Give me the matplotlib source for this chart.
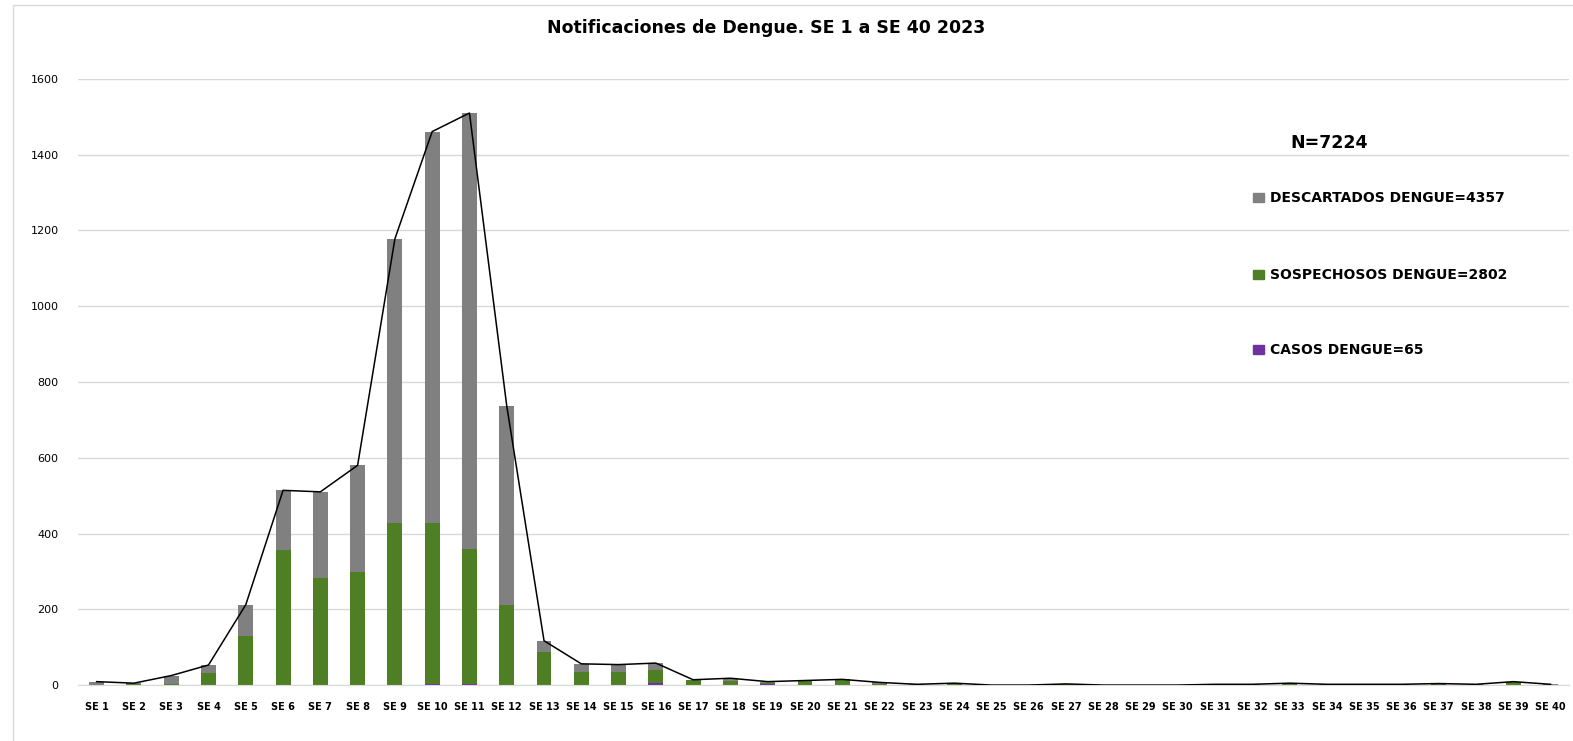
import numpy as np
import matplotlib
matplotlib.use('Agg')
import matplotlib.pyplot as plt
from matplotlib.patches import Rectangle

weeks = ['SE %d' % i for i in range(1, 41)]

casos = [0, 0, 1, 0, 0, 1, 0, 1, 1, 3, 3, 0, 1, 0, 0, 6, 0, 0, 2, 0,
         0, 1, 0, 1, 0, 0, 1, 0, 0, 0, 0, 0, 1, 0, 0, 0, 0, 0, 0, 0]
sospechosos = [0, 3, 1, 32, 130, 355, 283, 298, 428, 424, 357, 211, 85, 35, 35, 34, 13, 11, 4, 10,
               14, 3, 1, 1, 0, 0, 1, 0, 0, 0, 2, 1, 2, 1, 1, 2, 2, 1, 7, 1]
descartados = [9, 2, 23, 21, 82, 158, 227, 281, 749, 1034, 1150, 526, 31, 21, 19, 18, 1, 7, 3, 2,
               1, 3, 1, 3, 0, 0, 1, 0, 0, 0, 0, 1, 2, 1, 1, 0, 2, 1, 2, 1]

legend_labels = ['DESCARTADOS DENGUE=4357', 'SOSPECHOSOS DENGUE=2802', 'CASOS DENGUE=65']
total_label = 'N=7224'

c_desc = '#808080'
c_sosp = '#4f7f24'
c_casos = '#7030a0'

plt.rcParams['font.family'] = ['DejaVu Sans']

casos = np.array(casos)
sospechosos = np.array(sospechosos)
descartados = np.array(descartados)
total = casos + sospechosos + descartados
x = np.arange(len(weeks))

fig = plt.figure(figsize=(15.73, 7.41), dpi=100)
ax = fig.add_axes([0.0496, 0.0755, 0.948, 0.818])

w = 0.4
ax.bar(x, casos, w, color=c_casos, zorder=2)
ax.bar(x, sospechosos, w, bottom=casos, color=c_sosp, zorder=2)
ax.bar(x, descartados, w, bottom=casos + sospechosos, color=c_desc, zorder=2)
ax.plot(x, total, color='black', lw=1.1, zorder=3)

ax.set_xlim(-0.5, len(weeks) - 0.5)
ax.set_ylim(0, 1600)
ax.set_yticks(np.arange(0, 1601, 200))
ax.set_xticks(x)
ax.set_xticklabels(weeks, fontsize=7, fontweight='bold')
ax.tick_params(axis='y', labelsize=8, length=0, pad=14)
ax.tick_params(axis='x', length=0, pad=12)
ax.grid(axis='y', color='#d9d9d9', lw=1, zorder=0)
for s in ['top', 'right', 'left']:
    ax.spines[s].set_visible(False)
ax.spines['bottom'].set_color('#d9d9d9')

fig.text(0.487, 0.962, 'Notificaciones de Dengue. SE 1 a SE 40 2023',
         ha='center', va='center', fontsize=12.5, fontweight='bold')

fig.text(0.845, 0.807, total_label, ha='center', va='center', fontsize=12.5, fontweight='bold')
leg_y = [0.733, 0.629, 0.528]
for lab, col, yy in zip(legend_labels, [c_desc, c_sosp, c_casos], leg_y):
    fig.patches.append(Rectangle((0.7965, yy - 0.006), 0.0072, 0.0125, transform=fig.transFigure,
                                 color=col, figure=fig))
    fig.text(0.8075, yy, lab, ha='left', va='center', fontsize=10, fontweight='bold')

# chart frame
fig.patches.append(Rectangle((13 / 1573, -0.01), 1.1, 1 - 5 / 741 + 0.01, transform=fig.transFigure,
                             fill=False, edgecolor='#d9d9d9', lw=1, figure=fig))

fig.savefig('out.png', dpi=100)
